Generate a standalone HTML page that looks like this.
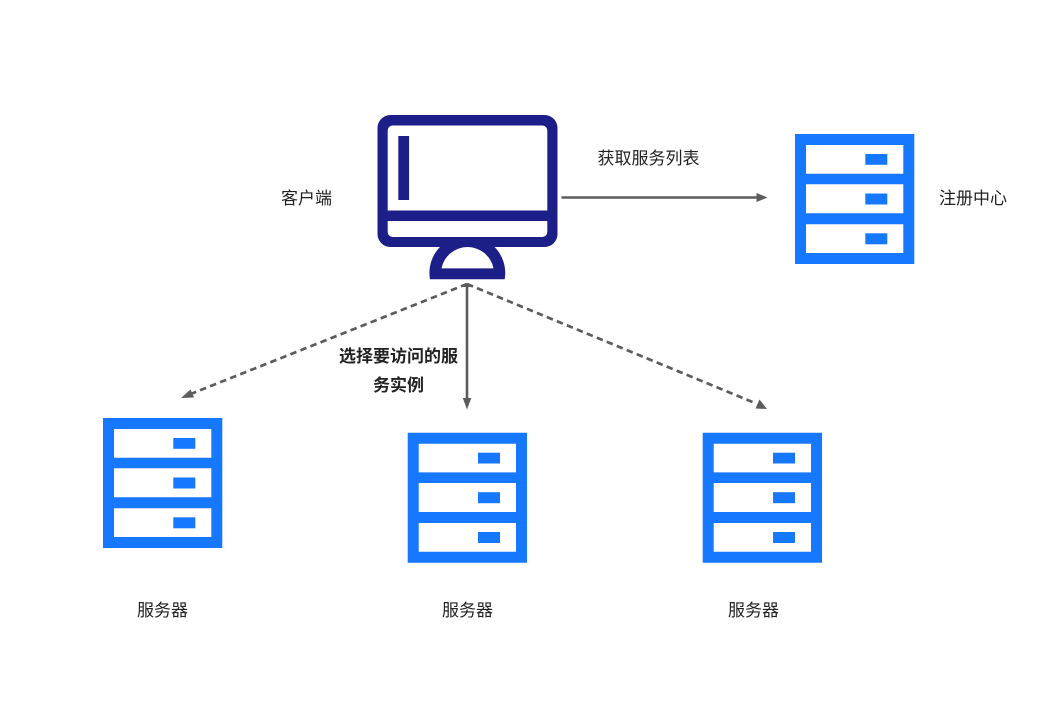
<!DOCTYPE html>
<html>
<head>
<meta charset="utf-8">
<style>
html,body{margin:0;padding:0;background:#fff;width:1056px;height:712px;overflow:hidden}
svg{display:block}
text{font-family:"Liberation Sans","Noto Sans CJK SC",sans-serif;font-size:17px;fill:#222}
</style>
</head>
<body>
<svg width="1056" height="712" viewBox="0 0 1056 712" xmlns="http://www.w3.org/2000/svg">
<defs>
<g id="srv">
<path fill="#1677ff" fill-rule="evenodd" d="M0 0H119.3V130H0Z M11 11V39.700H108.300V11Z M11 50.300V79.300H108.300V50.300Z M11 90.300V119H108.300V90.300Z"/>
<rect x="70.300" y="20" width="22" height="10.800" fill="#1677ff"/>
<rect x="70.300" y="59.500" width="22" height="11" fill="#1677ff"/>
<rect x="70.300" y="99.300" width="22" height="11" fill="#1677ff"/>
</g>
</defs>
<!-- monitor -->
<path fill="#1c1f87" fill-rule="evenodd" d="M390.500 115H544.500A13 13 0 0 1 557.500 128V234A13 13 0 0 1 544.500 247H390.500A13 13 0 0 1 377.500 234V128A13 13 0 0 1 390.500 115Z M392.500 125.500A5 5 0 0 0 387.700 130.500V210.500H547.300V130.500A5 5 0 0 0 542.500 125.500Z M387.700 221V232A5 5 0 0 0 392.700 237H542.300A5 5 0 0 0 547.300 232V221Z"/>
<rect x="398.300" y="136" width="10.800" height="64" fill="#1c1f87"/>
<path fill="#1c1f87" fill-rule="evenodd" d="M441 246H493.500A37 37 0 0 1 504.700 279.300H430A37 37 0 0 1 441 246Z M441.500 268.400H493.500A26.500 26.500 0 0 0 441.500 268.400Z"/>
<!-- servers -->
<use href="#srv" x="795" y="134"/>
<use href="#srv" x="103" y="418"/>
<use href="#srv" x="407.700" y="432.700"/>
<use href="#srv" x="702.700" y="432.700"/>
<!-- connectors -->
<line x1="561.500" y1="197.500" x2="758" y2="197.500" stroke="#5c5c5c" stroke-width="2.600"/>
<polygon points="767.500,197.500 756.500,193 756.500,202" fill="#5c5c5c"/>
<line x1="467" y1="284" x2="467" y2="400" stroke="#5c5c5c" stroke-width="2.600"/>
<polygon points="467,409.500 462.800,398 471.300,398" fill="#5c5c5c"/>
<polygon points="467,283 462.500,287 471.500,287" fill="#5c5c5c"/>
<line x1="467" y1="284" x2="192" y2="393.500" stroke="#5c5c5c" stroke-width="2.700" stroke-dasharray="6.500 4.300"/>
<polygon points="181,398 190.500,389.500 194,397.500" fill="#5c5c5c"/>
<line x1="467" y1="284" x2="755" y2="403" stroke="#5c5c5c" stroke-width="2.700" stroke-dasharray="6.500 4.300"/>
<polygon points="767,409 755.500,408.500 759.500,399.500" fill="#5c5c5c"/>
<!-- labels -->
<text x="281" y="204">客户端</text>
<text x="597.500" y="164">获取服务列表</text>
<text x="939" y="204">注册中心</text>
<text x="339" y="362" style="font-weight:700">选择要访问的服</text>
<text x="373" y="391" style="font-weight:700">务实例</text>
<text x="137" y="616">服务器</text>
<text x="442" y="616">服务器</text>
<text x="728" y="616">服务器</text>
</svg>
</body>
</html>
